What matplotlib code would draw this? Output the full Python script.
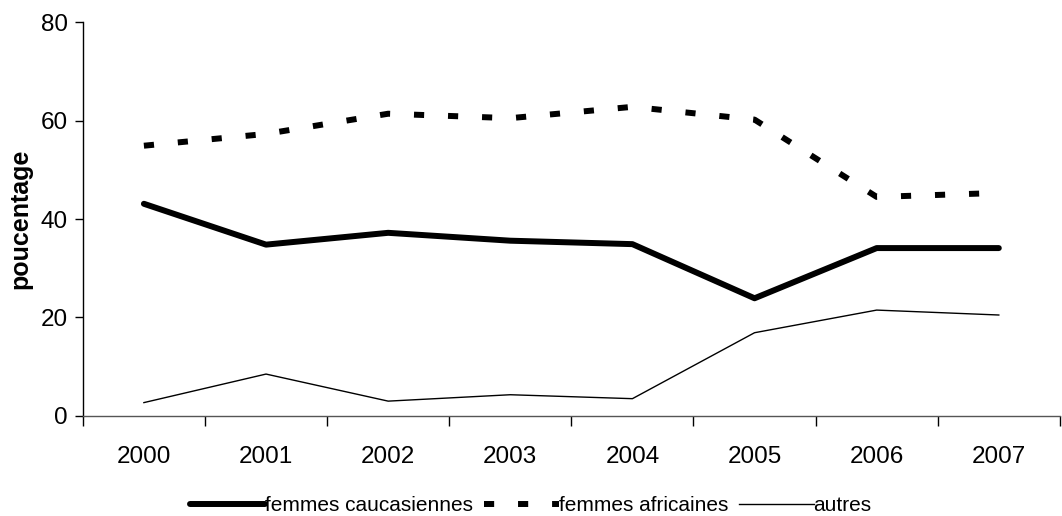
import numpy as np
import matplotlib
matplotlib.use("Agg")
import matplotlib.pyplot as plt
from matplotlib.ticker import FixedLocator

plt.rcParams['font.family'] = ['Liberation Sans', 'DejaVu Sans']

years = ['2000', '2001', '2002', '2003', '2004', '2005', '2006', '2007']
caucasiennes = [43.1, 34.8, 37.2, 35.6, 34.9, 23.9, 34.1, 34.1]
africaines = [54.9, 57.3, 61.4, 60.5, 62.8, 60.2, 44.5, 45.3]
autres = [2.7, 8.5, 3.0, 4.3, 3.5, 16.9, 21.5, 20.5]

fig = plt.figure(figsize=(10.62, 5.16), dpi=100)
ax = fig.add_axes([0.078, 0.194, 0.92, 0.763])

x = np.arange(len(years))
ax.plot(x, caucasiennes, color='black', lw=4.3, solid_capstyle='round',
        label='femmes caucasiennes')
ax.plot(x, africaines, color='black', lw=4.3, dashes=(1.7, 4.0),
        dash_capstyle='butt', label='femmes africaines')
ax.plot(x, autres, color='black', lw=1.0, label='autres')

ax.set_xlim(-0.5, len(years) - 0.5)
ax.set_ylim(0, 80)
ax.set_yticks([0, 20, 40, 60, 80])
ax.set_xticks(x)
ax.set_xticklabels(years)
ax.xaxis.set_minor_locator(FixedLocator(np.arange(-0.5, len(years), 1.0)))
ax.tick_params(axis='x', which='major', length=0, pad=22, labelsize=17.5)
ax.tick_params(axis='x', which='minor', length=7, width=1, direction='out')
ax.tick_params(axis='y', length=6, width=1, labelsize=17.5, pad=5)

for s in ['top', 'right']:
    ax.spines[s].set_visible(False)
ax.spines['left'].set_linewidth(1)
ax.spines['bottom'].set_linewidth(1)
ax.spines['bottom'].set_color('#555555')

ax.set_ylabel('poucentage', fontsize=18, fontweight='bold', labelpad=6)

fig.legend(loc='lower center', bbox_to_anchor=(0.5, -0.035), ncol=3, frameon=False,
           fontsize=15, handlelength=3.6, handletextpad=0.0, columnspacing=0.5)

fig.savefig('out.png', dpi=100)
